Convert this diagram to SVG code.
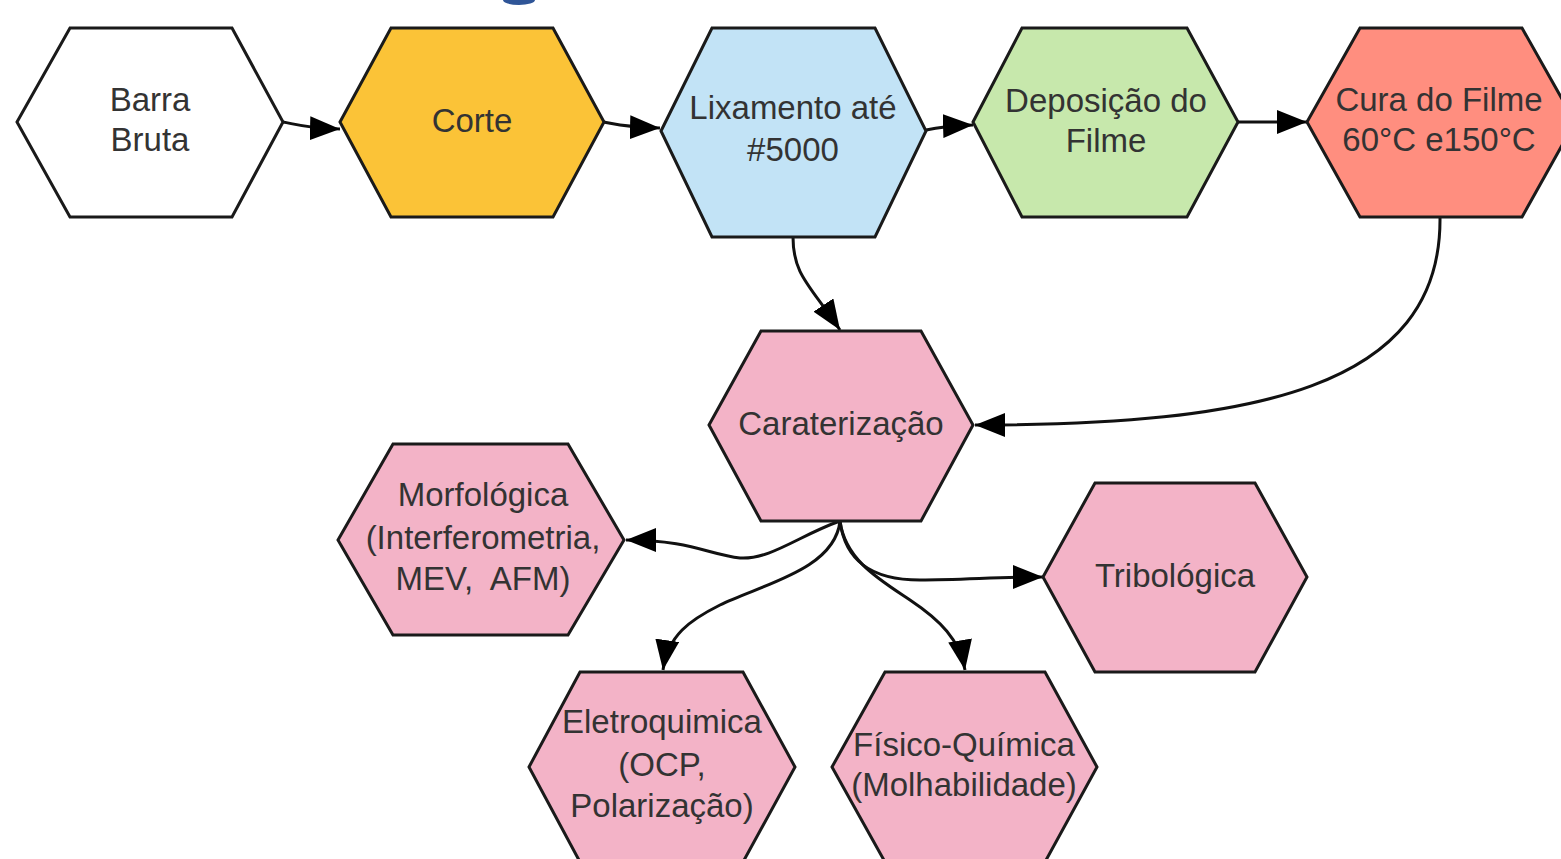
<svg xmlns="http://www.w3.org/2000/svg" width="1561" height="859" viewBox="0 0 1561 859">
<style>
.hex{stroke:#1a1a1a;stroke-width:3;stroke-linejoin:miter}
.t{font-family:"Liberation Sans",Arial,sans-serif;font-size:33px;fill:#333;text-anchor:middle;white-space:pre}
.c{fill:none;stroke:#111;stroke-width:3}
.pink{fill:#F3B3C7}
</style>
<defs>
<marker id="ah" viewBox="0 0 30 24" refX="30" refY="12" markerWidth="30" markerHeight="24" markerUnits="userSpaceOnUse" orient="auto">
<path d="M0,0 L30,12 L0,24 Z" fill="#000"/>
</marker>
</defs>
<rect width="1561" height="859" fill="#fff"/>
<path d="M503,0 A16,5 0 0 0 535,0 Z" fill="#2f5597"/>
<g id="connectors">
<path class="c" marker-end="url(#ah)" d="M283,122 C295,124 305,128 340,129"/>
<path class="c" marker-end="url(#ah)" d="M604,122 C615,124 625,127 660,128"/>
<path class="c" marker-end="url(#ah)" d="M926,130 C935,128 945,126 973,125"/>
<path class="c" marker-end="url(#ah)" d="M1238,122 L1307,122"/>
<path class="c" marker-end="url(#ah)" d="M793,237 C793,275 810,285 840,330"/>
<path class="c" marker-end="url(#ah)" d="M1440,217 C1442,390 1250,425 975,425"/>
<path class="c" marker-end="url(#ah)" d="M840,521 C800,535 770,560 740,558 C710,555 690,540 626,540"/>
<path class="c" marker-end="url(#ah)" d="M840,521 C835,570 760,585 720,605 C690,620 668,635 663,670"/>
<path class="c" marker-end="url(#ah)" d="M840,521 C845,560 880,580 910,600 C940,620 960,640 965,670"/>
<path class="c" marker-end="url(#ah)" d="M840,521 C845,560 870,580 920,580 C960,580 1000,577 1043,577"/>
</g>
<g id="barra">
<polygon class="hex" fill="#fff" points="17,122 70,28 232,28 283,122 232,217 70,217"/>
<text class="t" x="150" y="111">Barra</text>
<text class="t" x="150" y="151">Bruta</text>
</g>
<g id="corte">
<polygon class="hex" fill="#FBC337" points="340,122 391,28 553,28 604,122 553,217 391,217"/>
<text class="t" x="472" y="132">Corte</text>
</g>
<g id="lixamento">
<polygon class="hex" fill="#C2E3F6" points="661,131 712,28 875,28 926,131 875,237 712,237"/>
<text class="t" x="793" y="119">Lixamento até</text>
<text class="t" x="793" y="161">#5000</text>
</g>
<g id="deposicao">
<polygon class="hex" fill="#C7E8AC" points="973,122 1022,28 1187,28 1238,122 1187,217 1022,217"/>
<text class="t" x="1106" y="112">Deposição do</text>
<text class="t" x="1106" y="152">Filme</text>
</g>
<g id="cura">
<polygon class="hex" fill="#FF8E7F" points="1307,122 1360,28 1522,28 1575,122 1522,217 1360,217"/>
<text class="t" x="1439" y="111">Cura do Filme</text>
<text class="t" x="1439" y="151">60°C e150°C</text>
</g>
<g id="caracterizacao">
<polygon class="hex pink" points="709,425 761,331 921,331 973,425 921,521 761,521"/>
<text class="t" x="841" y="435">Caraterização</text>
</g>
<g id="morfologica">
<polygon class="hex pink" points="338,540 393,444 568,444 624,540 568,635 393,635"/>
<text class="t" x="483" y="506">Morfológica</text>
<text class="t" x="483" y="549">(Interferometria,</text>
<text class="t" x="483" y="590">MEV,  AFM)</text>
</g>
<g id="tribologica">
<polygon class="hex pink" points="1043,577 1095,483 1255,483 1307,577 1255,672 1095,672"/>
<text class="t" x="1175" y="587">Tribológica</text>
</g>
<g id="eletroquimica">
<polygon class="hex pink" points="529,767 580,672 743,672 795,767 743,862 580,862"/>
<text class="t" x="662" y="733">Eletroquimica</text>
<text class="t" x="662" y="776">(OCP,</text>
<text class="t" x="662" y="817">Polarização)</text>
</g>
<g id="fisicoquimica">
<polygon class="hex pink" points="832,767 885,672 1045,672 1097,767 1045,862 885,862"/>
<text class="t" x="964" y="756">Físico-Química</text>
<text class="t" x="964" y="796">(Molhabilidade)</text>
</g>
</svg>
